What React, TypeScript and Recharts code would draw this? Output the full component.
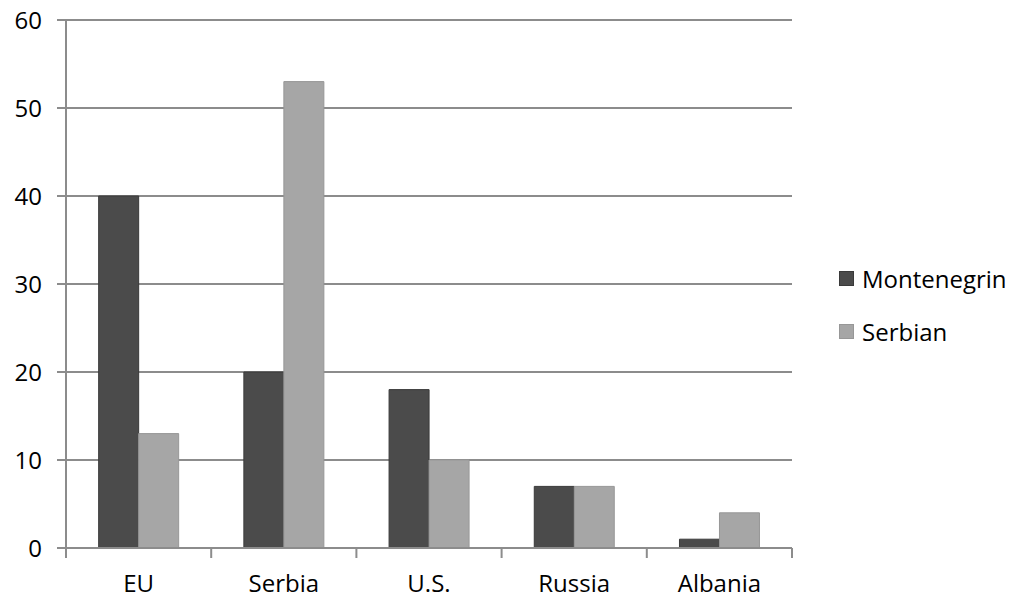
import React from "react";
import { BarChart, Bar, XAxis, YAxis, CartesianGrid } from "recharts";

const categories = ["EU", "Serbia", "U.S.", "Russia", "Albania"];
const montenegrin = [40, 20, 18, 7, 1];
const serbian = [13, 53, 10, 7, 4];
const yTicks = [0, 10, 20, 30, 40, 50, 60];

const seriesNames = ["Montenegrin", "Serbian"];
const seriesColors = ["#4b4b4b", "#a6a6a6"];
const seriesStrokes = ["#3a3a3a", "#979797"];

const data = categories.map((c, i) => ({
  name: c,
  Montenegrin: montenegrin[i],
  Serbian: serbian[i],
}));

const FONT = "'Open Sans', sans-serif";
const AXIS_COLOR = "#8c8c8c";

const LegendBox = () => (
  <div
    style={{
      position: "absolute",
      left: 839,
      top: 252,
      fontFamily: FONT,
      fontSize: 24,
      color: "#000",
      whiteSpace: "nowrap",
    }}
  >
    {seriesNames.map((n, i) => (
      <div key={n} style={{ display: "flex", alignItems: "center", height: 53 }}>
        <span
          style={{
            display: "inline-block",
            width: 15,
            height: 15,
            background: seriesColors[i],
            border: `1px solid ${seriesStrokes[i]}`,
            boxSizing: "border-box",
            marginRight: 8,
          }}
        />
        <span>{n}</span>
      </div>
    ))}
  </div>
);

const CategoryTick = (props: any) => {
  const { x, y, payload, index } = props;
  const half = payload && typeof payload.offset === "number" ? payload.offset : 0;
  const isLast = index === categories.length - 1;
  return (
    <g>
      <line x1={x - half} x2={x - half} y1={y} y2={y + 10} stroke={AXIS_COLOR} strokeWidth={2} />
      {isLast && (
        <line x1={x + half} x2={x + half} y1={y} y2={y + 10} stroke={AXIS_COLOR} strokeWidth={2} />
      )}
      <text
        x={x}
        y={y + 27}
        dy="0.71em"
        textAnchor="middle"
        fill="#000"
        fontSize={24}
        fontFamily={FONT}
      >
        {payload.value}
      </text>
    </g>
  );
};

export default function App() {
  return (
    <div
      style={{
        position: "absolute",
        left: 0,
        top: 0,
        width: 1020,
        height: 599,
        background: "#fff",
        overflow: "hidden",
      }}
    >
      <BarChart
        width={1020}
        height={599}
        data={data}
        margin={{ top: 20, right: 228, bottom: 0, left: 0 }}
        barCategoryGap="22.5%"
        barGap={0}
        style={{ fontFamily: FONT }}
      >
        <CartesianGrid vertical={false} stroke={AXIS_COLOR} strokeWidth={2} />
        <XAxis
          dataKey="name"
          height={51}
          tickLine={false}
          tickSize={0}
          tickMargin={0}
          axisLine={{ stroke: AXIS_COLOR, strokeWidth: 2 }}
          tick={<CategoryTick />}
          interval={0}
        />
        <YAxis
          width={66}
          domain={[0, 60]}
          ticks={yTicks}
          tickSize={9}
          tickMargin={15}
          tickLine={{ stroke: AXIS_COLOR, strokeWidth: 2 }}
          axisLine={{ stroke: AXIS_COLOR, strokeWidth: 2 }}
          tick={{ fill: "#000", fontSize: 24, fontFamily: FONT }}
          allowDataOverflow
        />
        <Bar
          dataKey="Montenegrin"
          fill={seriesColors[0]}
          stroke={seriesStrokes[0]}
          strokeWidth={1}
          isAnimationActive={false}
        />
        <Bar
          dataKey="Serbian"
          fill={seriesColors[1]}
          stroke={seriesStrokes[1]}
          strokeWidth={1}
          isAnimationActive={false}
        />
      </BarChart>
      <LegendBox />
    </div>
  );
}
